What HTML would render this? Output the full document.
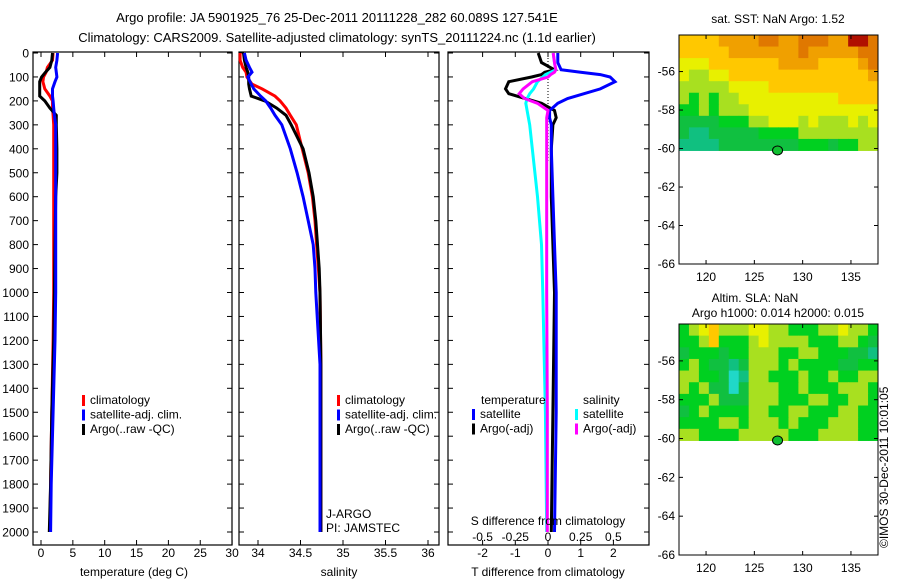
<!DOCTYPE html>
<html><head><meta charset="utf-8"><style>
html,body{margin:0;padding:0;background:#fff;}
svg{display:block;font-family:"Liberation Sans",sans-serif;}
</style></head><body>
<svg id="fig" width="900" height="580" viewBox="0 0 900 580">
<text x="337" y="22" font-size="13" text-anchor="middle">Argo profile: JA 5901925_76 25-Dec-2011 20111228_282 60.089S 127.541E</text>
<text x="337" y="42" font-size="13" text-anchor="middle">Climatology: CARS2009. Satellite-adjusted climatology: synTS_20111224.nc (1.1d earlier)</text>
<text transform="translate(888,548) rotate(-90)" font-size="12">©IMOS 30-Dec-2011 10:01:05</text>
</svg>
<script>
// ---- profile data (depth in m) ----
const tDepth = [0,30,60,80,100,120,150,180,200,230,260,300,400,500,600,800,1000,1200,1500,1800,2000];
const tClim  = [1.9,1.8,1.0,0.8,0.4,0.3,0.6,1.4,1.8,1.8,1.9,2.0,2.0,2.0,2.0,2.0,2.0,1.9,1.7,1.5,1.4];
const tSat   = [2.6,2.5,2.3,2.4,2.5,2.2,1.8,1.8,1.9,2.0,2.1,2.3,2.3,2.3,2.3,2.3,2.3,2.2,1.9,1.6,1.5];
const tArgo  = [1.8,1.7,1.4,0.7,0.1,-0.2,-0.2,-0.2,0.6,1.4,2.4,2.4,2.5,2.5,2.3,2.2,2.1,2.0,1.7,1.5,1.3];
const sDepth = [0,30,60,80,100,130,150,180,200,230,260,300,400,500,600,700,800,900,1000,1300,1600,2000];
const sClim  = [33.79,33.79,33.82,33.86,33.87,33.93,34.05,34.2,34.26,34.33,34.38,34.45,34.52,34.59,34.64,34.67,34.69,34.71,34.73,34.74,34.74,34.74];
const sSat   = [33.84,33.86,33.9,33.93,33.88,33.92,33.95,34.03,34.09,34.15,34.2,34.28,34.38,34.46,34.53,34.59,34.65,34.67,34.68,34.73,34.73,34.73];
const sArgo  = [33.83,33.84,33.86,33.88,33.89,33.89,33.9,33.92,34.08,34.22,34.33,34.39,34.53,34.6,34.65,34.68,34.7,34.72,34.73,34.74,34.74,34.74];
// differences
const dDepth = [0,40,70,80,90,100,120,150,170,190,210,240,270,300,400,600,800,1000,1500,2000];
const dTSat  = [0.3,0.3,0.4,1.0,1.6,1.9,2.05,1.6,1.1,0.6,0.3,0.05,0.05,0.1,0.1,0.15,0.2,0.25,0.25,0.2];
const dTArgo = [-0.3,-0.2,0.2,-0.1,-0.2,-0.5,-1.2,-1.3,-1.2,-0.7,-0.2,0.2,0.25,0.15,0.1,0.1,0.15,0.2,0.15,0.1];
const dSSat  = [0.04,0.05,0.06,0.02,-0.02,-0.04,-0.08,-0.11,-0.14,-0.16,-0.17,-0.16,-0.15,-0.14,-0.12,-0.08,-0.05,-0.04,-0.02,-0.01];
const dSArgo = [0.04,0.05,0.06,0.05,0.02,0.0,-0.12,-0.19,-0.22,-0.18,-0.08,0.0,-0.01,-0.01,-0.01,-0.01,-0.01,-0.01,-0.005,-0.005];
const depthTicks = [0,100,200,300,400,500,600,700,800,900,1000,1100,1200,1300,1400,1500,1600,1700,1800,1900,2000];
const tTicks = [0,5,10,15,20,25,30];
const sTicks = [34,34.5,35,35.5,36];
const dTTicks = [-2,-1,0,1,2];
const dSTicks = [-0.5,-0.25,0,0.25,0.5];
// ---- map data (digits 0-9 colour index), 10 rows x 20 cols ----
const sstGrid = ["66667777887788877998","66666777777787777788","55566666667777666678","54455666666666666667","44444555566666666666","43434455555555556666","33434445555555555555","22223334455545444545","21122222333344444444","11112222222233323344"];
const slaGrid = ["34564445544333445443","33463334544443334432","23332334443344333221","34322124443433332233","44332014433343343344","43422024443343334443","33342224443334433443","23433334433443334433","33334434443433344433","44333344444333444433"];
const lonTicks = [120,125,130,135];
const latTicks = [-56,-58,-60,-62,-64,-66];
const floatPos = [127.4,-60.1];

const NS="http://www.w3.org/2000/svg";
const svg=document.getElementById('fig');
function mk(tag,attrs,parent){const e=document.createElementNS(NS,tag);for(const k in attrs)e.setAttribute(k,attrs[k]);(parent||svg).appendChild(e);return e;}
function txt(x,y,s,size,anchor,parent){const t=mk('text',{x:x,y:y,'font-size':size||12,'text-anchor':anchor||'middle'},parent);t.textContent=s;return t;}
const TOP=52,BOT=545;
const yD=d=>53+d*0.2395;

function panel(x0,x1,name){
  const g=mk('g',{});
  
  
  const r=mk('rect',{x:x0,y:TOP,width:x1-x0,height:BOT-TOP,fill:'none',stroke:'#000','stroke-width':1.2},g);
  
  
  return g;
}
function line(g,xs,ds,xf,color,name,w){
  let p='';for(let i=0;i<xs.length;i++)p+=(i?'L':'M')+xf(xs[i]).toFixed(1)+' '+yD(ds[i]).toFixed(1);
  const e=mk('path',{d:p,fill:'none',stroke:color,'stroke-width':w||3},g);
  
  
}
function xticks(g,ticks,xf,labY,fmt){
  ticks.forEach(t=>{const x=xf(t);
    mk('line',{x1:x,x2:x,y1:TOP,y2:TOP+5,stroke:'#000'},g);
    mk('line',{x1:x,x2:x,y1:BOT,y2:BOT-5,stroke:'#000'},g);
    if(labY){const l=txt(x,labY,fmt?fmt(t):String(t),12,'middle',g);
    
    }
  });
}
function legend(g,x,y,items){
  items.forEach((it,i)=>{
    mk('rect',{x:x,y:y+i*14.5-9,width:3,height:11,fill:it[1]},g);
    const l=txt(x+8,y+i*14.5,it[0],12,'start',g);
    
    
  });
}
// Panel 1 temperature
const xT=v=>41+v*6.37;
const p1=panel(33,232,'temperature-panel');
depthTicks.forEach(d=>{const y=yD(d);
  mk('line',{x1:33,x2:38,y1:y,y2:y,stroke:'#000'},p1);mk('line',{x1:232,x2:227,y1:y,y2:y,stroke:'#000'},p1);
  const l=txt(29,y+4.5,String(d),12,'end',p1);
  
  });
xticks(p1,tTicks,xT,557);
line(p1,tClim,tDepth,xT,'#f00','temp-climatology-line');
line(p1,tArgo,tDepth,xT,'#000','temp-argo-line');
line(p1,tSat,tDepth,xT,'#00f','temp-satellite-line');
legend(p1,82,404,[['climatology','#f00'],['satellite-adj. clim.','#00f'],['Argo(..raw -QC)','#000']]);
const xl1=txt(134,576,'temperature (deg C)',12,'middle',p1);


// Panel 2 salinity
const xS=v=>258+(v-34)*85;
const p2=panel(239,439,'salinity-panel');
depthTicks.forEach(d=>{const y=yD(d);mk('line',{x1:239,x2:244,y1:y,y2:y,stroke:'#000'},p2);mk('line',{x1:439,x2:434,y1:y,y2:y,stroke:'#000'},p2);});
xticks(p2,sTicks,xS,557);
line(p2,sClim,sDepth,xS,'#f00','sal-climatology-line');
line(p2,sArgo,sDepth,xS,'#000','sal-argo-line');
line(p2,sSat,sDepth,xS,'#00f','sal-satellite-line');
legend(p2,337,404,[['climatology','#f00'],['satellite-adj. clim.','#00f'],['Argo(..raw -QC)','#000']]);
const jl=txt(326,518,'J-ARGO',12,'start',p2);
const pl=txt(326,532,'PI: JAMSTEC',12,'start',p2);
const xl2=txt(339,576,'salinity',12,'middle',p2);


// Panel 3 differences
const xDT=v=>548+v*32.7;
const xDS=v=>548+v*130.8;
const p3=panel(448,649,'difference-panel');
depthTicks.forEach(d=>{const y=yD(d);mk('line',{x1:448,x2:453,y1:y,y2:y,stroke:'#000'},p3);mk('line',{x1:649,x2:644,y1:y,y2:y,stroke:'#000'},p3);});
xticks(p3,dTTicks,xDT,557);
dSTicks.forEach(t=>{const l=txt(xDS(t),541,String(t),12,'middle',p3);});
mk('line',{x1:548,x2:548,y1:TOP,y2:yD(450),stroke:'#000','stroke-dasharray':'1,2'},p3);
line(p3,dTArgo,dDepth,xDT,'#000','tdiff-argo-line');
line(p3,dTSat,dDepth,xDT,'#00f','tdiff-satellite-line');
line(p3,dSSat,dDepth,xDS,'#0ff','sdiff-satellite-line');
line(p3,dSArgo,dDepth,xDS,'#f0f','sdiff-argo-line');
txt(481,404,'temperature',12,'start',p3);
txt(583,404,'salinity',12,'start',p3);
legend(p3,472,418,[['satellite','#00f'],['Argo(-adj)','#000']]);
legend(p3,575,418,[['satellite','#0ff'],['Argo(-adj)','#f0f']]);
const sdt=txt(548,525,'S difference from climatology',12,'middle',p3);

const tdt=txt(548,576,'T difference from climatology',12,'middle',p3);

// Maps
const cmap=['#20d8c8','#10c080','#10c040','#00d020','#a8e020','#e8f000','#ffc800','#f0a000','#e07800','#b01000'];
function map(top,bot,grid,title,name,titles){
  const g=mk('g',{});
  
  
  const L=679,R=878;
  const latTop=-54.1,latBot=-66;
  const yL=v=>top+(latTop-v)/(latTop-latBot)*(bot-top);
  const xL=v=>L+(v-117.2)/(137.8-117.2)*(R-L);
  const rows=grid.length,cols=grid[0].length;
  const lon0=117.2,lon1=137.8,lat0=-54.1,lat1=-60.1;
  for(let r=0;r<rows;r++)for(let c=0;c<cols;c++){
    const xa=xL(lon0+(lon1-lon0)*c/cols),xb=xL(lon0+(lon1-lon0)*(c+1)/cols);
    const ya=yL(lat0+(lat1-lat0)*r/rows),yb=yL(lat0+(lat1-lat0)*(r+1)/rows);
    const cell=mk('rect',{x:xa,y:ya,width:xb-xa+0.5,height:yb-ya+0.5,fill:cmap[+grid[r][c]]},g);
    
    
  }
  mk('rect',{x:L,y:top,width:R-L,height:bot-top,fill:'none',stroke:'#000'},g);
  lonTicks.forEach(v=>{const x=xL(v);mk('line',{x1:x,x2:x,y1:bot,y2:bot-4,stroke:'#000'},g);mk('line',{x1:x,x2:x,y1:top,y2:top+4,stroke:'#000'},g);txt(x,bot+17,String(v),12,'middle',g);});
  latTicks.forEach(v=>{const y=yL(v);mk('line',{x1:L,x2:L+4,y1:y,y2:y,stroke:'#000'},g);mk('line',{x1:R,x2:R-4,y1:y,y2:y,stroke:'#000'},g);txt(L-4,y+4,String(v),12,'end',g);});
  const dot=mk('ellipse',{cx:xL(floatPos[0]),cy:yL(floatPos[1]),rx:5,ry:4.5,fill:'#10c030',stroke:'#000'},g);
  
  
  titles.forEach(t=>{const l=txt(t[0],t[1],t[2],12,'middle',g);});
}
map(35,264,sstGrid,'','sst-map',[[778,23,'sat. SST: NaN Argo: 1.52']]);
map(324,555,slaGrid,'','sla-map',[[755,302,'Altim. SLA: NaN'],[778,317,'Argo h1000: 0.014 h2000: 0.015']]);
</script>
</body></html>
